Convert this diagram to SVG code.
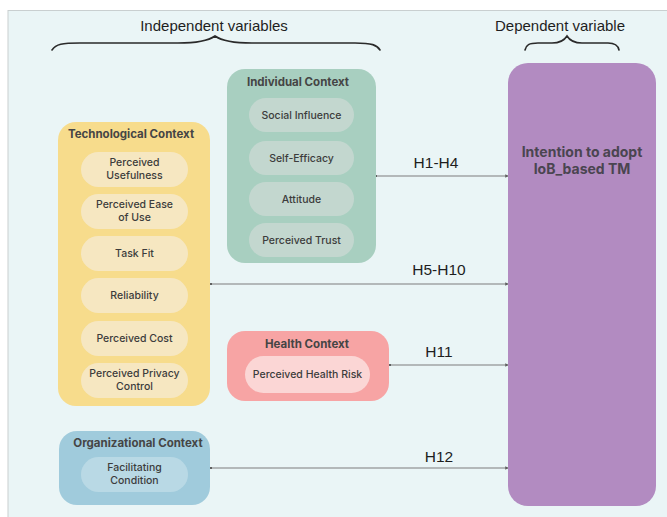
<svg xmlns="http://www.w3.org/2000/svg" width="667" height="517" viewBox="0 0 667 517">
  <style>
    .hdr { font-family: "Liberation Sans", Arial, sans-serif; font-size: 15px; fill: #1e1e1e; text-anchor: middle; }
    .hyp { font-family: "Liberation Sans", Arial, sans-serif; font-size: 15.5px; fill: #1e1e1e; text-anchor: middle; }
    .ttl { font-family: Inter, "Noto Sans", sans-serif; font-size: 11.5px; font-weight: 700; fill: #454545; text-anchor: middle; }
    .pill { font-family: Inter, "Noto Sans", sans-serif; font-size: 10.5px; font-weight: 500; fill: #3c3c3c; text-anchor: middle; }
    .dv { font-family: Inter, "Noto Sans", sans-serif; font-size: 14px; font-weight: 700; fill: #4a4550; text-anchor: middle; }
    .brace { fill: none; stroke: #2a2a2a; stroke-width: 1.6; stroke-linecap: round; }
    .conn { fill: none; stroke: #7d7d7d; stroke-width: 1.1; marker-start: url(#dot); marker-end: url(#head); }
  </style>
  <defs>
    <marker id="head" viewBox="0 0 6 6" refX="5" refY="3" markerWidth="3" markerHeight="3" orient="auto">
      <path d="M0,0 L6,3 L0,6 z" fill="#5e5e5e"/>
    </marker>
    <marker id="dot" viewBox="0 0 6 6" refX="3" refY="3" markerWidth="2.2" markerHeight="2.2">
      <circle cx="3" cy="3" r="3" fill="#5e5e5e"/>
    </marker>
  </defs>

  <!-- canvas -->
  <rect x="0" y="0" width="667" height="517" fill="#ffffff"/>
  <rect x="8" y="10.5" width="670" height="520" fill="#eaf5f6" stroke="#c9cfd0" stroke-width="1"/>

  <!-- headings with braces -->
  <g id="independent-heading">
    <text class="hdr" x="214" y="31">Independent variables</text>
    <path class="brace" d="M52,50 C56,44 62,43 80,43 L178,43 C198,43 208,41 215,36 C222,41 232,43 252,43 L355,43 C372,43 377,45 380,50"/>
  </g>
  <g id="dependent-heading">
    <text class="hdr" x="560" y="31">Dependent variable</text>
    <path class="brace" d="M525,50 C526,45 529,43 538,43 L552,43 C559,43 564,41 567,36 C570,41 575,43 582,43 L608,43 C615,43 618,45 619,50"/>
  </g>

  <!-- connectors -->
  <g id="connectors">
    <line class="conn" x1="376" y1="176" x2="508" y2="176"/>
    <line class="conn" x1="211" y1="284" x2="508" y2="284"/>
    <line class="conn" x1="390" y1="365" x2="508" y2="365"/>
    <line class="conn" x1="211" y1="468" x2="508" y2="468"/>
    <text class="hyp" x="436" y="168">H1-H4</text>
    <text class="hyp" x="439" y="275">H5-H10</text>
    <text class="hyp" x="439" y="357">H11</text>
    <text class="hyp" x="439" y="462">H12</text>
  </g>

  <!-- Individual Context -->
  <g id="individual-context">
    <rect x="227" y="69" width="149" height="194" rx="18" fill="#a8cfc0"/>
    <text class="ttl" x="298" y="86">Individual Context</text>
    <rect x="249" y="98" width="105" height="34" rx="17" fill="#c3d7cf"/>
    <text class="pill" x="301.5" y="119">Social Influence</text>
    <rect x="249" y="141" width="105" height="34" rx="17" fill="#c3d7cf"/>
    <text class="pill" x="301.5" y="162">Self-Efficacy</text>
    <rect x="249" y="182" width="105" height="34" rx="17" fill="#c3d7cf"/>
    <text class="pill" x="301.5" y="203">Attitude</text>
    <rect x="249" y="223" width="105" height="34" rx="17" fill="#c3d7cf"/>
    <text class="pill" x="301.5" y="244">Perceived Trust</text>
  </g>

  <!-- Technological Context -->
  <g id="technological-context">
    <rect x="58" y="122" width="152" height="284" rx="18" fill="#f7dc8c"/>
    <text class="ttl" x="131" y="138">Technological Context</text>
    <rect x="81" y="152" width="107" height="35" rx="17.5" fill="#f6e7c1"/>
    <text class="pill" x="134.5" y="166">Perceived</text>
    <text class="pill" x="134.5" y="179">Usefulness</text>
    <rect x="81" y="194" width="107" height="35" rx="17.5" fill="#f6e7c1"/>
    <text class="pill" x="134.5" y="208">Perceived Ease</text>
    <text class="pill" x="134.5" y="221">of Use</text>
    <rect x="81" y="236" width="107" height="35" rx="17.5" fill="#f6e7c1"/>
    <text class="pill" x="134.5" y="257">Task Fit</text>
    <rect x="81" y="278" width="107" height="35" rx="17.5" fill="#f6e7c1"/>
    <text class="pill" x="134.5" y="299">Reliability</text>
    <rect x="81" y="321" width="107" height="35" rx="17.5" fill="#f6e7c1"/>
    <text class="pill" x="134.5" y="342">Perceived Cost</text>
    <rect x="81" y="363" width="107" height="35" rx="17.5" fill="#f6e7c1"/>
    <text class="pill" x="134.5" y="377">Perceived Privacy</text>
    <text class="pill" x="134.5" y="390">Control</text>
  </g>

  <!-- Health Context -->
  <g id="health-context">
    <rect x="227" y="331" width="162" height="70" rx="18" fill="#f7a4a4"/>
    <text class="ttl" x="307" y="348">Health Context</text>
    <rect x="245" y="356" width="125" height="37" rx="18.5" fill="#fbd6d5"/>
    <text class="pill" x="307.5" y="378">Perceived Health Risk</text>
  </g>

  <!-- Organizational Context -->
  <g id="organizational-context">
    <rect x="59" y="431" width="151" height="74" rx="18" fill="#a0cbdc"/>
    <text class="ttl" x="138" y="447">Organizational Context</text>
    <rect x="81" y="457" width="107" height="35" rx="17.5" fill="#b9d9e5"/>
    <text class="pill" x="134.5" y="471">Facilitating</text>
    <text class="pill" x="134.5" y="484">Condition</text>
  </g>

  <!-- Dependent variable -->
  <g id="intention">
    <rect x="508" y="63" width="148" height="443" rx="20" fill="#b28bc1"/>
    <text class="dv" x="582" y="157">Intention to adopt</text>
    <text class="dv" x="582" y="174">IoB_based TM</text>
  </g>
</svg>
